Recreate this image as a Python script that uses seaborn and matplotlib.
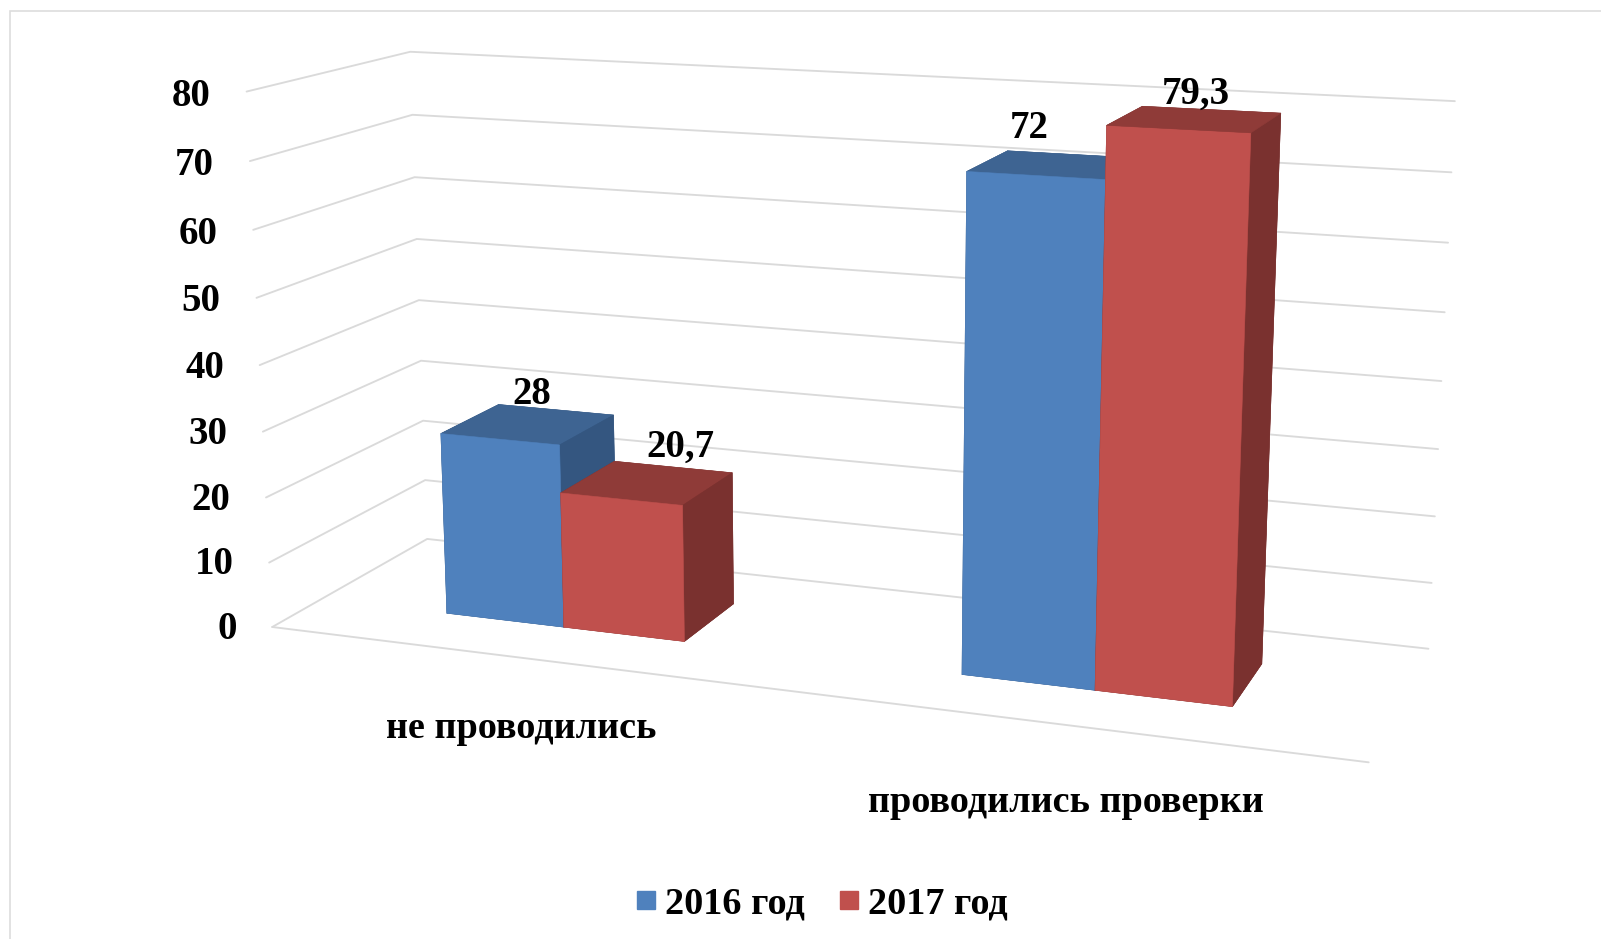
import matplotlib
matplotlib.use('Agg')
import matplotlib.pyplot as plt
from matplotlib.lines import Line2D
from matplotlib.patches import Rectangle
import seaborn as sns

## data
categories = ['не проводились', 'проводились проверки']
values_2016 = [28, 72]
values_2017 = [20.7, 79.3]
labels_2016 = ['28', '72']
labels_2017 = ['20,7', '79,3']
series_names = ['2016 год', '2017 год']
z_ticks = [0, 10, 20, 30, 40, 50, 60, 70, 80]

sns.set_theme(style='white')
plt.rcParams['font.family'] = ['Liberation Serif', 'DejaVu Serif']
plt.rcParams['font.weight'] = 'bold'

## front, top, side colours for each series
palette = sns.color_palette(['#4F81BD', '#C0504D'])
tops = ['#3E6492', '#8F3B38']
sides = ['#345680', '#7A312F']
grid_color = '#DADADA'

W, H = 1601, 939
fig = plt.figure(figsize=(W / 100, H / 100), dpi=100, facecolor='white')

## square 3d axes, camera found by fitting the walls of the reference
side = 1600.0
cx, cy = 821.9, 394.6
ax = fig.add_axes([(cx - side / 2) / W, (H - cy - side / 2) / H, side / W, side / H], projection='3d')
ax.set_xlim(0, 2, view_margin=0)
ax.set_ylim(0, 1, view_margin=0)
ax.set_zlim(0, 80, view_margin=0)
ax.view_init(13.35, -69.94, 0.024)
ax.set_proj_type('persp', focal_length=0.3373)
ax.set_box_aspect((1, 0.2984, 0.4904), zoom=0.7935)
ax.set_xticks([])
ax.set_yticks([])
ax.set_zticks([])
ax.set_axis_off()
ax.patch.set_alpha(0)
ax.computed_zorder = False

## walls
for z in z_ticks:
    ax.plot([0, 0, 2], [0, 1, 1], [z, z, z], color=grid_color, lw=1.35, zorder=1, clip_on=False)
    ax.text(-0.074, 0, z - 1.0, str(z), ha='right', va='center', fontsize=28, color='black')
ax.plot([0, 2], [0, 0], [0, 0], color=grid_color, lw=1.35, zorder=1, clip_on=False)

## bars
bar_w = 0.2385
y_front, y_depth = 0.3034, 0.3909
order = 2
for i, cat in enumerate(categories):
    center = i + 0.5
    for s, vals in enumerate([values_2016, values_2017]):
        x0 = center + (s - 1) * bar_w
        # faces are -z, +z, -y, +y, -x, +x
        face_colors = [sides[s], tops[s], palette[s], sides[s], sides[s], sides[s]]
        ax.bar3d(x0, y_front, 0, bar_w, y_depth, vals[i], color=face_colors, edgecolor=face_colors,
                 linewidth=0.4, shade=False, zorder=order)
        order += 1

## value labels, shifted by hand in data units like the original chart
offsets_2016 = [(0.009, 4.6), (-0.046, 4.8)]
offsets_2017 = [(0.066, 6.0), (0.0, 3.3)]
y_mid = y_front + y_depth / 2
for i in range(len(categories)):
    center = i + 0.5
    ax.text(center - bar_w / 2 + offsets_2016[i][0], y_mid, values_2016[i] + offsets_2016[i][1], labels_2016[i],
            ha='center', va='center', fontsize=28, color='black', zorder=20)
    ax.text(center + bar_w / 2 + offsets_2017[i][0], y_mid, values_2017[i] + offsets_2017[i][1], labels_2017[i],
            ha='center', va='center', fontsize=28, color='black', zorder=20)

## category labels sit below the floor
fig.text(521 / W, 1 - 729 / H, categories[0], ha='center', va='center', fontsize=27.5, color='black')
fig.text(1066 / W, 1 - 803 / H, categories[1], ha='center', va='center', fontsize=27.5, color='black')

## legend
handles = [Line2D([], [], marker='s', linestyle='none', markersize=12.5, color=palette[k]) for k in range(2)]
fig.legend(handles, series_names, loc='center', bbox_to_anchor=(822 / W, 1 - 904 / H), ncol=2, frameon=False,
           fontsize=27.5, labelcolor='black', handlelength=0.5, handletextpad=0.25, columnspacing=0.9, borderpad=0)

## thin frame of the original picture, running off the right and bottom
fig.add_artist(Rectangle((10 / W, -0.1), 2, 1.1 - 10.5 / H, transform=fig.transFigure, fill=False,
                         edgecolor='#DDDDDD', lw=1.2))

plt.savefig('out.png', dpi=100)
